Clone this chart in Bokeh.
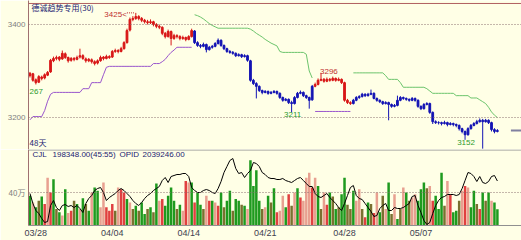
import numpy as np
from bokeh.plotting import figure
from bokeh.layouts import column
from bokeh.models import Range1d, FixedTicker, Span, Label, ColumnDataSource
from bokeh.embed import file_html
from bokeh.resources import INLINE
from bokeh.core.properties import value

# ------------------------------------------------------------------ data
opens = [
    3290, 3294, 3281, 3276, 3287, 3285, 3291, 3298, 3322, 3327,
    3330, 3326, 3337, 3329, 3323, 3327, 3325, 3330, 3333, 3326,
    3322, 3324, 3320, 3317, 3322, 3330, 3327, 3331, 3330, 3342,
    3344, 3342, 3348, 3361, 3388, 3411, 3413, 3417, 3413, 3409,
    3406, 3404, 3406, 3400, 3396, 3394, 3381, 3374, 3385, 3370,
    3376, 3374, 3370, 3372, 3368, 3374, 3386, 3361, 3355, 3353,
    3357, 3346, 3351, 3353, 3359, 3366, 3355, 3348, 3342, 3340,
    3338, 3333, 3335, 3331, 3333, 3322, 3280, 3273, 3267, 3258,
    3254, 3256, 3252, 3254, 3256, 3252, 3243, 3237, 3239, 3232,
    3230, 3243, 3252, 3254, 3247, 3243, 3238, 3267, 3271, 3280,
    3282, 3278, 3282, 3280, 3284, 3280, 3282, 3275, 3237, 3232,
    3230, 3237, 3243, 3245, 3250, 3247, 3250, 3252, 3241, 3237,
    3234, 3230, 3232, 3228, 3224, 3226, 3237, 3243, 3241, 3239,
    3237, 3241, 3237, 3224, 3219, 3228, 3230, 3211, 3191, 3189,
    3189, 3187, 3189, 3185, 3187, 3185, 3183, 3176, 3170, 3163,
    3176, 3183, 3187, 3191, 3194, 3191, 3194, 3189, 3174, 3170,
]
highs = [
    3298, 3296, 3284, 3291, 3290, 3295, 3300, 3326, 3331, 3333,
    3332, 3344, 3340, 3331, 3330, 3330, 3333, 3348, 3336, 3329,
    3328, 3327, 3323, 3325, 3333, 3332, 3335, 3334, 3345, 3348,
    3347, 3352, 3364, 3391, 3415, 3418, 3425, 3420, 3416, 3412,
    3410, 3411, 3408, 3403, 3400, 3396, 3384, 3389, 3387, 3380,
    3379, 3377, 3376, 3374, 3377, 3391, 3388, 3364, 3358, 3361,
    3359, 3354, 3356, 3362, 3370, 3368, 3357, 3350, 3345, 3343,
    3340, 3338, 3337, 3336, 3335, 3324, 3283, 3276, 3269, 3260,
    3259, 3258, 3257, 3259, 3258, 3254, 3245, 3242, 3241, 3236,
    3246, 3255, 3258, 3256, 3249, 3245, 3270, 3275, 3284, 3296,
    3285, 3286, 3285, 3288, 3286, 3286, 3284, 3277, 3240, 3235,
    3240, 3246, 3248, 3253, 3252, 3253, 3260, 3254, 3243, 3239,
    3236, 3235, 3234, 3230, 3229, 3247, 3246, 3245, 3243, 3241,
    3244, 3243, 3239, 3226, 3231, 3233, 3232, 3213, 3194, 3192,
    3191, 3193, 3191, 3190, 3189, 3187, 3185, 3178, 3172, 3179,
    3186, 3190, 3195, 3198, 3197, 3197, 3196, 3191, 3177, 3175,
]
lows = [
    3286, 3277, 3271, 3274, 3280, 3282, 3289, 3296, 3319, 3323,
    3321, 3324, 3326, 3318, 3320, 3321, 3323, 3327, 3324, 3318,
    3319, 3316, 3312, 3314, 3320, 3323, 3325, 3326, 3328, 3339,
    3338, 3340, 3346, 3359, 3385, 3407, 3410, 3409, 3405, 3402,
    3400, 3401, 3396, 3392, 3390, 3377, 3370, 3372, 3355, 3367,
    3370, 3366, 3367, 3364, 3366, 3372, 3358, 3352, 3349, 3351,
    3340, 3344, 3348, 3351, 3357, 3352, 3345, 3339, 3337, 3335,
    3330, 3331, 3328, 3329, 3320, 3277, 3270, 3241, 3255, 3250,
    3252, 3249, 3250, 3252, 3249, 3240, 3234, 3235, 3229, 3211,
    3228, 3241, 3250, 3244, 3240, 3219, 3236, 3265, 3269, 3278,
    3275, 3276, 3277, 3278, 3277, 3278, 3272, 3234, 3229, 3227,
    3228, 3235, 3240, 3243, 3244, 3245, 3248, 3239, 3234, 3231,
    3227, 3228, 3194, 3221, 3222, 3224, 3235, 3238, 3236, 3234,
    3235, 3234, 3221, 3216, 3217, 3226, 3208, 3186, 3186, 3185,
    3183, 3185, 3181, 3183, 3181, 3179, 3172, 3166, 3152, 3161,
    3174, 3181, 3185, 3189, 3133, 3189, 3186, 3170, 3166, 3168,
]
closes = [
    3295, 3280, 3275, 3288, 3284, 3292, 3297, 3323, 3327, 3329,
    3325, 3338, 3329, 3322, 3327, 3325, 3329, 3333, 3327, 3322,
    3325, 3320, 3316, 3322, 3329, 3327, 3331, 3329, 3342, 3344,
    3342, 3348, 3361, 3387, 3411, 3413, 3417, 3413, 3409, 3406,
    3404, 3406, 3400, 3396, 3394, 3381, 3374, 3385, 3370, 3376,
    3374, 3370, 3372, 3368, 3374, 3387, 3361, 3355, 3353, 3357,
    3346, 3351, 3353, 3359, 3366, 3355, 3348, 3342, 3340, 3338,
    3333, 3335, 3331, 3333, 3323, 3280, 3273, 3267, 3258, 3254,
    3256, 3252, 3254, 3256, 3252, 3243, 3237, 3239, 3232, 3230,
    3243, 3252, 3254, 3247, 3243, 3237, 3267, 3271, 3280, 3282,
    3278, 3282, 3280, 3284, 3280, 3282, 3275, 3237, 3232, 3230,
    3237, 3243, 3245, 3250, 3247, 3250, 3252, 3241, 3237, 3234,
    3230, 3232, 3228, 3224, 3226, 3237, 3243, 3241, 3239, 3237,
    3241, 3237, 3224, 3219, 3228, 3230, 3211, 3191, 3189, 3189,
    3187, 3189, 3185, 3187, 3185, 3183, 3176, 3170, 3163, 3176,
    3183, 3187, 3191, 3194, 3191, 3194, 3189, 3174, 3170, 3172,
]
trend_runs = [("up", 56), ("dn", 41), ("up", 13), ("dn", 50)]

# trend support (purple, in up-trend) and resistance (green, in down-trend)
support = ([3195, 3202, 3202, 3202, 3202, 3215, 3235, 3250]
           + [3254] * 10 + [3262] * 3 + [3275] * 4 + [3292, 3308]
           + [3310] * 15 + [3316] * 3 + [3320, 3325, 3333, 3340, 3345]
           + [3351] * 6
           + [None] * 41
           + [3213] * 13
           + [None] * 50)
resist = ([None] * 56
          + [3421, 3419, 3416, 3412, 3407, 3402, 3398, 3395] + [3392] * 11
          + [3390, 3386, 3381, 3377, 3373, 3368, 3364, 3360, 3357, 3354, 3342]
          + [3340] * 8 + [3336, 3300, 3285]
          + [None] * 13
          + [3296] * 11 + [3290] + [3282] * 4 + [3275] + [3265] * 8 + [3262, 3257]
          + [3252] * 8 + [3247] * 5 + [3242] * 3
          + [3238, 3234, 3230, 3222, 3212, 3205, 3200])

# volume per bar (万) and bar colour class
volume = [
    36, 28, 22, 30, 35, 26, 58, 40, 56, 20,
    16, 12, 44, 15, 18, 30, 26, 20, 33, 26,
    18, 40, 46, 42, 22, 52, 22, 18, 26, 18,
    46, 44, 40, 32, 28, 20, 24, 18, 28, 14,
    20, 22, 16, 51, 30, 32, 24, 36, 46, 30,
    20, 25, 18, 54, 52, 52, 28, 40, 25, 20,
    36, 30, 30, 28, 24, 40, 22, 30, 42, 18,
    32, 30, 25, 24, 20, 79, 48, 67, 30, 20,
    22, 36, 28, 45, 16, 18, 36, 22, 38, 24,
    40, 45, 34, 30, 58, 64, 46, 58, 48, 20,
    40, 25, 40, 35, 20, 22, 38, 58, 25, 20,
    42, 30, 44, 20, 10, 28, 26, 15, 40, 16,
    36, 20, 52, 14, 38, 8, 20, 46, 40, 30,
    34, 38, 30, 44, 52, 45, 48, 30, 36, 20,
    64, 24, 54, 38, 16, 18, 30, 42, 48, 46,
    22, 42, 26, 20, 40, 30, 40, 30, 28, 19.8,
]
vol_kind = ("GPGDGRPRGD" "GPGPRDGPGD" "GPGGPPRRRD" "PRRGPDGDGG"
            "DGDGPRGGGG" "DGPRPGRGGD" "PRGPRGDGGD" "GGDGPGGGGD"
            "PGDGRPPGRD" "PGRPPPRPGD" "PRGDGDGGDD" "GPPDRGDRPG"
            "DPGDPGDPGD" "PPGGGDPRGG" "GDPRGGDPRP" "GGDRGDGPGG")

# open interest (万)
open_interest = [
    201.4, 199.4, 198.0, 197.4, 196.4, 195.6, 195.8, 199.0, 200.0, 198.6,
    198.0, 199.0, 199.2, 198.8, 199.0, 198.6, 199.0, 198.4, 197.6, 199.4,
    200.4, 201.0, 202.0, 202.4, 202.6, 201.6, 200.0, 200.6, 201.0, 201.4,
    202.0, 202.4, 202.0, 201.4, 200.8, 200.0, 199.4, 199.0, 199.6, 200.4,
    201.0, 201.4, 202.0, 202.4, 202.8, 204.0, 204.6, 203.6, 204.8, 205.0,
    205.2, 205.2, 205.4, 205.4, 204.8, 202.6, 202.0, 201.6, 201.6, 202.0,
    202.2, 202.0, 201.6, 201.4, 202.4, 203.8, 205.6, 206.8, 208.0, 208.4,
    206.4, 205.4, 205.6, 204.6, 205.4, 206.0, 207.6, 207.4, 206.8, 205.6,
    205.2, 204.6, 204.4, 204.4, 204.2, 204.2, 204.4, 204.0, 203.8, 203.6,
    204.0, 204.4, 204.6, 204.0, 203.4, 202.8, 202.8, 201.4, 200.8, 200.6,
    201.0, 201.4, 200.6, 200.0, 199.4, 198.6, 198.0, 199.4, 201.0, 202.6,
    203.0, 201.0, 200.4, 200.2, 199.4, 198.6, 197.8, 196.8, 197.0, 198.4,
    199.0, 199.4, 198.0, 198.0, 198.6, 198.4, 198.4, 198.6, 199.0, 199.4,
    200.8, 201.0, 199.0, 197.6, 196.0, 195.2, 195.6, 197.4, 199.0, 200.0,
    200.6, 200.8, 201.2, 201.2, 201.2, 201.0, 201.2, 202.4, 204.0, 205.6,
    205.4, 204.8, 203.8, 204.8, 203.6, 203.4, 203.8, 204.8, 205.0, 203.9,
]

date_ticks = [2, 28, 54, 80, 107, 133]
date_labels = ["03/28", "04/04", "04/14", "04/21", "04/28", "05/07"]
price_ticks = [3200, 3400]
vol_ticks = [40]
vol_tick_labels = ["40万"]
extremes = [(36, "arrow"), (99, "high"), (89, "low"), (148, "low")]
title_text = "德诚趋势专用(30)"
cjl_name, cjl_value = "CJL", "198348.00(45:55)"
opid_name, opid_value = "OPID", "2039246.00"
note_267 = ("267", 3256)
note_days = ("48天", 3146)

n = len(closes)
for arr in (opens, highs, lows, support, resist, volume, open_interest):
    assert len(arr) == n, len(arr)
assert len(vol_kind) == n

# ------------------------------------------------------------------ styling
BG = "#FFFFE6"
UP_C, DN_C = "#D81818", "#1414B4"
SUP_C, RES_C = "#9955CC", "#6CC46C"
VCOL = {"G": "#1E9A1E", "P": "#E8A090", "R": "#E04040", "D": "#7A7030"}
LAT = "Liberation Sans"
CJK = "Noto Sans CJK SC"

x = np.arange(n)
trend = [t for t, k in trend_runs for _ in range(k)]
ccol = [UP_C if t == "up" else DN_C for t in trend]
o = np.array(opens, float)
c = np.array(closes, float)
src = ColumnDataSource(dict(x=x, h=highs, l=lows, top=np.maximum(o, c),
                            bot=np.minimum(o, c), col=ccol))

xr = Range1d(-0.5, 167.2)

# ------------------------------------------------------------------ price panel
p1 = figure(width=521, height=149, x_range=xr, y_range=Range1d(3131.2, 3451.6),
            x_axis_location=None, output_backend="svg", toolbar_location=None,
            min_border_left=28, min_border_right=0, min_border_top=0, min_border_bottom=0,
            background_fill_color=BG, border_fill_color=BG, outline_line_color=None)
p1.xgrid.visible = False
p1.ygrid.visible = False
ax = p1.yaxis[0]
ax.ticker = FixedTicker(ticks=price_ticks)
ax.major_tick_out = 0
ax.major_tick_in = 0
ax.minor_tick_out = 0
ax.minor_tick_in = 0
ax.axis_line_color = "#A07070"
ax.major_label_text_color = "#808080"
ax.major_label_text_font = LAT
ax.major_label_text_font_size = "8px"
ax.major_label_standoff = 3

for t in price_ticks:
    p1.add_layout(Span(location=t, dimension="width", line_color="#8A7070",
                       line_dash="1 2", line_width=1))
p1.add_layout(Span(location=3445.2, dimension="width", line_color="#B06060", line_width=1))

p1.line(x, np.array(support, dtype=float), line_color=SUP_C, line_width=1)
p1.line(x, np.array(resist, dtype=float), line_color=RES_C, line_width=1)

p1.segment(x0="x", y0="h", x1="x", y1="l", line_color="col", line_width=1, source=src)
p1.vbar(x="x", width=0.6, top="top", bottom="bot", fill_color="col",
        line_color="col", line_width=1, source=src)

# last-price marker at right edge
p1.line([n + 3.6, n + 7.2], [closes[-1], closes[-1]], line_color="#8080A0", line_width=2)

for i, kind in extremes:
    if kind == "arrow":
        v = highs[i]
        p1.text(x=[i], y=[v], text=[f"{v}<"], text_align="right", text_baseline="middle",
                x_offset=-9, y_offset=2, text_color="#C03030",
                text_font=value(LAT), text_font_size=value("8px"))
        p1.line([i - 3, i - 0.4], [v, v], line_color="#C03030", line_dash="1 1", line_width=1)
    elif kind == "high":
        v = highs[i]
        p1.text(x=[i], y=[v], text=[str(v)], text_align="left", text_baseline="bottom",
                x_offset=-1, y_offset=1, text_color="#C03030",
                text_font=value(LAT), text_font_size=value("8px"))
    else:
        v = lows[i]
        p1.text(x=[i], y=[v], text=[str(v)], text_align="center", text_baseline="top",
                x_offset=1, y_offset=0, text_color="#2E9A2E",
                text_font=value(LAT), text_font_size=value("8px"))

p1.add_layout(Label(x=3, y=142, x_units="screen", y_units="screen", text=title_text,
                    text_font=CJK, text_font_size="8px", text_color="#1A1A70",
                    text_baseline="middle"))
p1.add_layout(Label(x=1, y=note_267[1], x_units="screen", y_units="data", text=note_267[0],
                    text_font=LAT, text_font_size="8px", text_color="#2E9A2E",
                    text_baseline="middle"))
p1.add_layout(Label(x=1, y=note_days[1], x_units="screen", y_units="data", text=note_days[0],
                    text_font=CJK, text_font_size="8px", text_color="#1A1A70",
                    text_baseline="middle"))

# ------------------------------------------------------------------ volume panel
p2 = figure(width=521, height=91, x_range=xr, y_range=Range1d(0, 92.1),
            output_backend="svg", toolbar_location=None,
            min_border_left=28, min_border_right=0, min_border_top=0, min_border_bottom=15,
            background_fill_color=BG, border_fill_color=BG, outline_line_color=None)
p2.extra_y_ranges = {"oi": Range1d(195.0, 210.2)}
p2.xgrid.visible = False
p2.ygrid.visible = False

xa = p2.xaxis[0]
xa.ticker = FixedTicker(ticks=date_ticks)
xa.major_label_overrides = {t: lab for t, lab in zip(date_ticks, date_labels)}
xa.major_tick_out = 0
xa.major_tick_in = 0
xa.minor_tick_out = 0
xa.minor_tick_in = 0
xa.axis_line_color = "#909090"
xa.major_label_text_color = "#404050"
xa.major_label_text_font = LAT
xa.major_label_text_font_size = "9px"
xa.major_label_standoff = 2

ya = p2.yaxis[0]
ya.ticker = FixedTicker(ticks=vol_ticks)
ya.major_label_overrides = {t: lab for t, lab in zip(vol_ticks, vol_tick_labels)}
ya.major_tick_out = 0
ya.major_tick_in = 0
ya.minor_tick_out = 0
ya.minor_tick_in = 0
ya.axis_line_color = "#A07070"
ya.major_label_text_color = "#808080"
ya.major_label_text_font = CJK
ya.major_label_text_font_size = "8px"
ya.major_label_standoff = 3

p2.add_layout(Span(location=91.5, dimension="width", line_color="#909090", line_width=1))
for t in vol_ticks:
    p2.add_layout(Span(location=t, dimension="width", line_color="#8A7070",
                       line_dash="1 2", line_width=1))

p2.vbar(x=x, top=volume, width=0.85, fill_color=[VCOL[k] for k in vol_kind],
        line_color=None)
p2.line(x, open_interest, y_range_name="oi", line_color="black", line_width=1)

for txt, sx in ((cjl_name, 4), (cjl_value, 24), (opid_name, 91), (opid_value, 114)):
    p2.add_layout(Label(x=sx, y=71, x_units="screen", y_units="screen", text=txt,
                        text_font=LAT, text_font_size="8px", text_color="#1A1A70",
                        text_baseline="middle"))

layout = column(p1, p2, spacing=0)
open("out.html", "w").write(file_html(layout, INLINE, title="chart"))
